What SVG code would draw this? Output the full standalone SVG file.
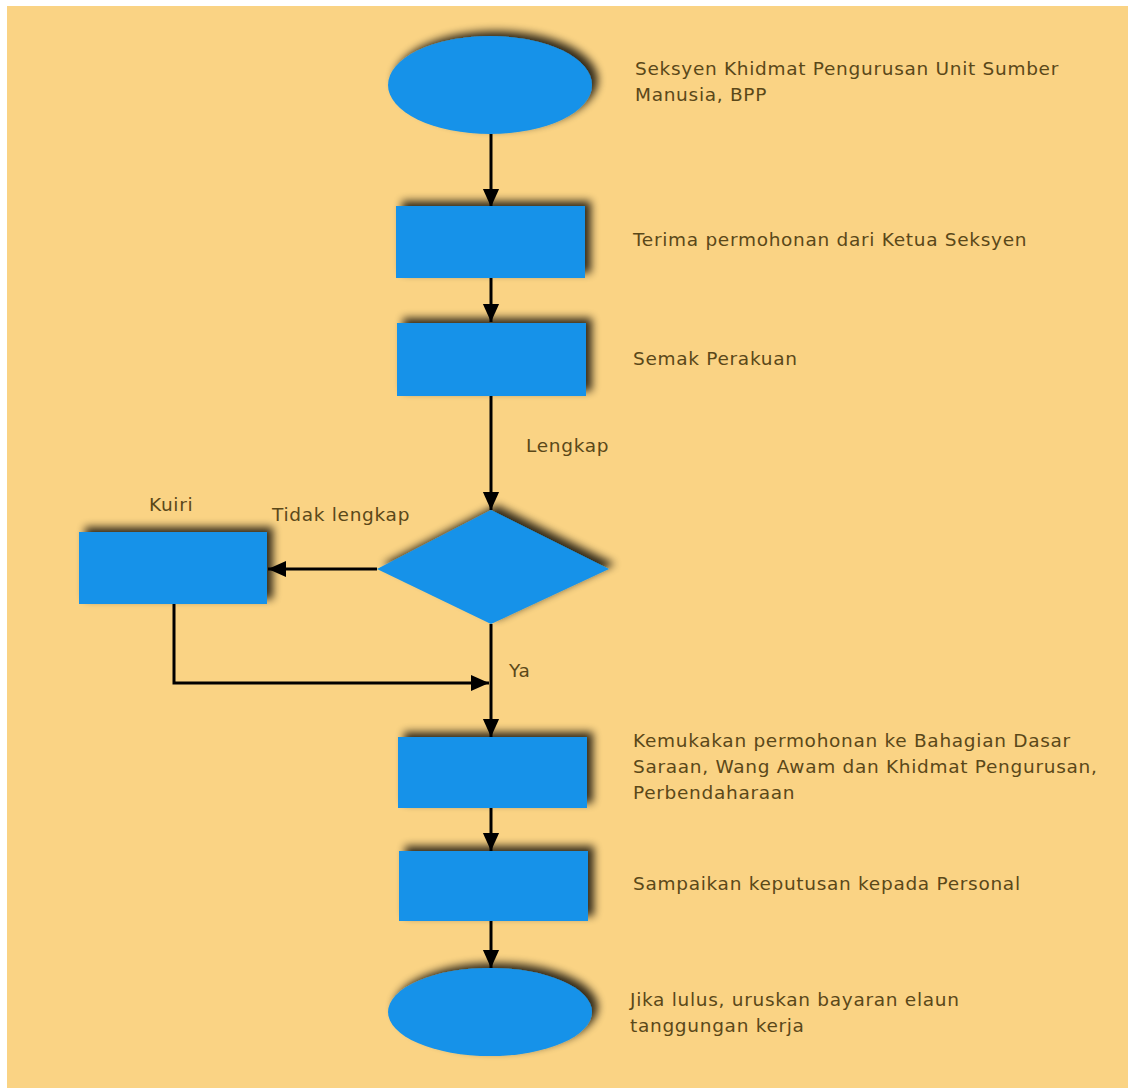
<svg xmlns="http://www.w3.org/2000/svg" width="1128" height="1088" viewBox="0 0 1128 1088">
<defs>
<filter id="sh" x="-20%" y="-30%" width="140%" height="160%">
<feGaussianBlur in="SourceAlpha" stdDeviation="4.5"/>
<feOffset dx="6" dy="-5" result="b"/>
<feComponentTransfer><feFuncA type="linear" slope="0.8"/></feComponentTransfer>
<feMerge><feMergeNode/><feMergeNode in="SourceGraphic"/></feMerge>
</filter>
<marker id="ah" viewBox="0 0 10 10" refX="10" refY="5" markerWidth="6" markerHeight="6" orient="auto" markerUnits="strokeWidth">
<path d="M0,0.5 L10,5 L0,9.5 z" fill="#000"/>
</marker>
</defs>
<style>
.n{fill:#1592e9;filter:url(#sh)}
.c{fill:none;stroke:#000;stroke-width:3}
.a{marker-end:url(#ah)}
text{font-family:"DejaVu Sans","Liberation Sans",sans-serif;font-size:18.5px;letter-spacing:0.7px;fill:#5a4819}
</style>
<rect x="0" y="0" width="1128" height="1088" fill="#ffffff"/>
<rect x="7" y="6" width="1121" height="1082" fill="#fad384"/>
<g id="connectors">
<line class="c a" x1="491" y1="134" x2="491" y2="207"/>
<line class="c a" x1="491" y1="278" x2="491" y2="322"/>
<line class="c a" x1="491" y1="396" x2="491" y2="510"/>
<line class="c a" x1="377" y1="569" x2="268" y2="569"/>
<polyline class="c a" points="174,604 174,683 489,683"/>
<line class="c a" x1="491" y1="624" x2="491" y2="737"/>
<line class="c a" x1="491" y1="808" x2="491" y2="851"/>
<line class="c a" x1="491" y1="921" x2="491" y2="968"/>
</g>
<g id="start"><ellipse class="n" cx="490" cy="85" rx="102" ry="49"/></g>
<g id="terima"><rect class="n" x="396" y="206" width="189" height="72"/></g>
<g id="semak"><rect class="n" x="397" y="323" width="189" height="73"/></g>
<g id="decision"><polygon class="n" points="491,510 609,569 491,624 377,569"/></g>
<g id="kuiri"><rect class="n" x="79" y="532" width="188" height="72"/></g>
<g id="kemukakan"><rect class="n" x="398" y="737" width="189" height="71"/></g>
<g id="sampaikan"><rect class="n" x="399" y="851" width="189" height="70"/></g>
<g id="end"><ellipse class="n" cx="490" cy="1012" rx="102" ry="44"/></g>
<g id="labels">
<text x="635" y="75">Seksyen Khidmat Pengurusan Unit Sumber</text>
<text x="635" y="101">Manusia, BPP</text>
<text x="633" y="246">Terima permohonan dari Ketua Seksyen</text>
<text x="633" y="365">Semak Perakuan</text>
<text x="526" y="452">Lengkap</text>
<text x="149" y="511">Kuiri</text>
<text x="272" y="521">Tidak lengkap</text>
<text x="509" y="677">Ya</text>
<text x="633" y="747">Kemukakan permohonan ke Bahagian Dasar</text>
<text x="633" y="773">Saraan, Wang Awam dan Khidmat Pengurusan,</text>
<text x="633" y="799">Perbendaharaan</text>
<text x="633" y="890">Sampaikan keputusan kepada Personal</text>
<text x="630" y="1006">Jika lulus, uruskan bayaran elaun</text>
<text x="630" y="1032">tanggungan kerja</text>
</g>
</svg>
